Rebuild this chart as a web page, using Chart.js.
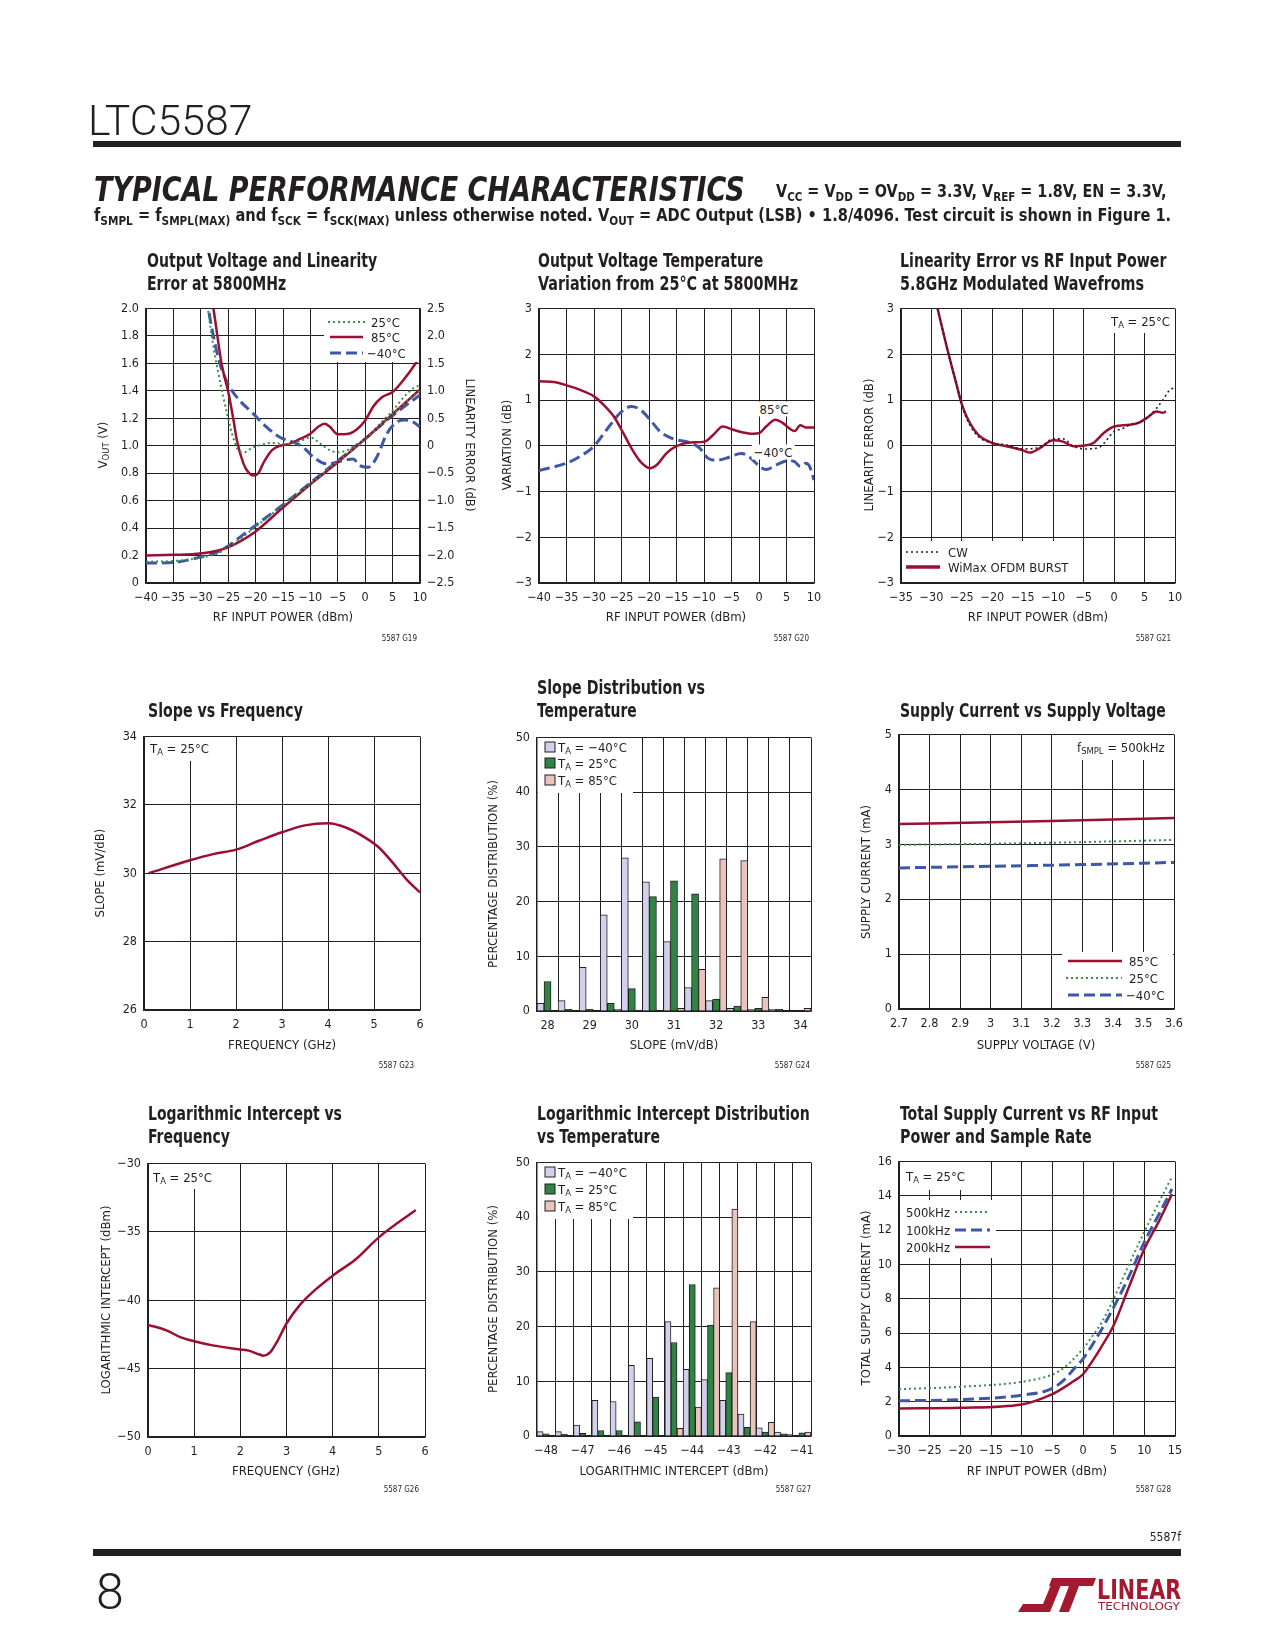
<!DOCTYPE html>
<html>
<head>
<meta charset="utf-8">
<title>LTC5587 Typical Performance Characteristics</title>
<script src="https://cdn.jsdelivr.net/npm/chart.js@4.4.1/dist/chart.umd.min.js"></script>
<style>
  body { margin: 0; background: #fff; }
  #page { position: relative; width: 1275px; height: 1650px; overflow: hidden; background: #fff;
          font-family: "Liberation Sans Narrow", "DejaVu Sans Condensed", "Arial Narrow", sans-serif; color: #231f20; }
  .t { position: absolute; white-space: nowrap; line-height: 1; }
  .t sub { font-size: 72%; vertical-align: -0.28em; line-height: 0; }
  .ttl { font-weight: bold; font-size: 19px; }
  .ax { font-size: 13px; }
  .note { font-size: 13px; }
  .code { font-size: 8px; }
  .rule { position: absolute; background: #231f20; }
  canvas { display: block; }
</style>
</head>
<body>
<div id="page"></div>
<script>
// G19 output voltage and linearity error at 5800MHz
const g19Pin = [-40, -35, -30, -27, -25, -22.5, -20, -15, -10, -5, 0, 5, 10];
const g19Vout25 = [0.155, 0.16, 0.185, 0.215, 0.26, 0.33, 0.41, 0.565, 0.725, 0.885, 1.045, 1.235, 1.40];
const g19Vout85 = [0.20, 0.205, 0.215, 0.235, 0.26, 0.31, 0.375, 0.55, 0.72, 0.88, 1.05, 1.23, 1.41];
const g19VoutM40 = [0.145, 0.15, 0.19, 0.225, 0.27, 0.345, 0.42, 0.57, 0.73, 0.89, 1.05, 1.22, 1.37];
const g19ErrX25 = [-29.3, -28.7, -27.7, -26.5, -25.2, -24, -23, -22, -21, -19.5, -17, -14.5, -12, -10, -8.2, -6.5, -5, -3.5, -1.5, 0.5, 2.7, 5, 7, 8.8, 10];
const g19Err25 = [3.0, 2.5, 1.8, 1.18, 0.58, 0.12, -0.1, -0.12, -0.06, 0.0, 0.05, 0.03, 0.08, 0.15, 0.04, -0.08, -0.12, -0.09, 0.03, 0.17, 0.4, 0.64, 0.88, 1.05, 1.1];
const g19ErrX85 = [-28.6, -27.7, -26.2, -24.9, -24, -23.4, -22.2, -21.2, -20.4, -19.5, -18.5, -17, -15.5, -14, -12, -10, -8.5, -7.4, -6.5, -5, -3, -1.5, 0, 1.5, 3, 5, 6, 8, 10];
const g19Err85 = [3.0, 2.5, 1.49, 0.94, 0.45, 0.09, -0.33, -0.5, -0.54, -0.5, -0.3, -0.08, 0.0, 0.03, 0.12, 0.22, 0.35, 0.4, 0.35, 0.21, 0.22, 0.3, 0.46, 0.72, 0.88, 0.98, 1.08, 1.33, 1.62];
const g19ErrXM40 = [-29.2, -28.6, -27.5, -26.5, -25, -23.4, -20.4, -18, -15.5, -13, -11.3, -9.4, -7, -4, -2.2, -1, 0.6, 2.1, 3.9, 5.7, 7.3, 8.8, 10];
const g19ErrM40 = [3.0, 2.5, 1.9, 1.49, 1.12, 0.88, 0.58, 0.34, 0.15, 0.06, -0.03, -0.21, -0.33, -0.27, -0.24, -0.36, -0.39, -0.21, 0.21, 0.43, 0.47, 0.43, 0.34];

// G20 output voltage temperature variation from 25C
const g20X85 = [-40, -37, -35, -32.5, -30, -28.3, -26.4, -25, -23.4, -21.6, -19.8, -18.6, -16.8, -15, -12.6, -9.9, -8.3, -6.6, -4.7, -2.9, -1.1, 0.1, 1.3, 3, 4.3, 5.5, 6.5, 7.5, 8.5, 10];
const g20Var85 = [1.41, 1.39, 1.32, 1.22, 1.08, 0.9, 0.64, 0.35, -0.01, -0.34, -0.49, -0.42, -0.16, -0.01, 0.07, 0.09, 0.24, 0.42, 0.35, 0.29, 0.26, 0.28, 0.42, 0.57, 0.5, 0.38, 0.32, 0.45, 0.4, 0.4];
const g20XM40 = [-40, -35, -32.5, -30, -27.7, -25.3, -23.2, -21.6, -19.8, -18, -15.6, -12.6, -10.8, -9.3, -7.8, -5.9, -3.2, -1.7, 0.1, 1.3, 3.1, 5.5, 6.5, 7.5, 8.5, 9.2, 10];
const g20VarM40 = [-0.54, -0.38, -0.23, -0.01, 0.35, 0.71, 0.86, 0.79, 0.57, 0.31, 0.15, 0.07, -0.05, -0.27, -0.32, -0.27, -0.17, -0.25, -0.45, -0.52, -0.42, -0.32, -0.35, -0.45, -0.38, -0.45, -0.75];

// G21 linearity error, CW vs WiMax burst
const g21XWimax = [-29, -27.5, -26.1, -24.9, -23.7, -22.3, -20, -17.7, -15, -13.8, -12.2, -10, -8.4, -6.7, -5.1, -3.4, -1.7, 0, 2.5, 4, 5.5, 7, 8, 8.5];
const g21Wimax = [3.0, 2.17, 1.45, 0.86, 0.5, 0.24, 0.06, -0.01, -0.1, -0.15, -0.05, 0.12, 0.09, -0.01, 0, 0.06, 0.28, 0.42, 0.46, 0.5, 0.62, 0.75, 0.72, 0.75];
const g21XCw = [-29, -27.5, -26.1, -24.9, -23.7, -22.3, -20, -17.7, -15, -12, -10, -8.4, -6.7, -4.6, -2.4, 0, 1.5, 2.6, 4, 6, 8, 9, 10];
const g21Cw = [3.0, 2.17, 1.45, 0.84, 0.45, 0.2, 0.06, 0.02, -0.07, -0.02, 0.15, 0.15, -0.01, -0.07, -0.03, 0.31, 0.38, 0.46, 0.5, 0.68, 1.0, 1.2, 1.28];

// G23 slope vs frequency
const g23Freq = [0.1, 1, 1.5, 2, 2.5, 3, 3.5, 4, 4.4, 4.8, 5.1, 5.4, 5.7, 6];
const g23Slope = [30.0, 30.38, 30.56, 30.69, 30.95, 31.2, 31.4, 31.46, 31.33, 31.05, 30.76, 30.32, 29.83, 29.44];

// G24 slope distribution (%)
const g24Slope = ['28', '28.5', '29', '29.5', '30', '30.5', '31', '31.5', '32', '32.5', '33', '33.5', '34'];
const g24M40 = [1.4, 1.9, 8.0, 17.6, 28.0, 23.6, 12.7, 4.3, 1.9, 0.5, 0.3, 0.3, null];
const g24P25 = [5.4, 0.3, 0.3, 1.4, 4.1, 20.9, 23.8, 21.4, 2.2, 0.9, 0.5, 0.3, null];
const g24P85 = [null, null, null, 0.3, null, null, 0.5, 7.6, 27.8, 27.5, 2.5, null, 0.5];

// G25 supply current vs supply voltage
const g25Vdd = [2.7, 3.0, 3.3, 3.6];
const g25I85 = [3.37, 3.40, 3.44, 3.48];
const g25I25 = [2.99, 3.01, 3.04, 3.08];
const g25IM40 = [2.57, 2.60, 2.63, 2.67];

// G26 logarithmic intercept vs frequency
const g26Freq = [0, 0.4, 0.7, 1, 1.4, 2, 2.2, 2.4, 2.5, 2.65, 2.8, 3, 3.3, 3.6, 4, 4.5, 5, 5.8];
const g26Icpt = [-41.8, -42.2, -42.7, -43.0, -43.3, -43.6, -43.7, -43.95, -44.05, -43.8, -43.0, -41.7, -40.3, -39.3, -38.2, -37.0, -35.4, -33.4];

// G27 log intercept distribution (%)
const g27Icpt = ['−48', '−47.5', '−47', '−46.5', '−46', '−45.5', '−45', '−44.5', '−44', '−43.5', '−43', '−42.5', '−42', '−41.5', '−41'];
const g27M40 = [0.8, 0.8, 2.0, 6.5, 6.3, 12.9, 14.2, 20.9, 12.2, 10.3, 6.5, 4.0, 1.5, 0.7, null];
const g27P25 = [0.4, 0.3, 0.5, 1.0, 1.0, 2.6, 7.1, 17.1, 27.7, 20.3, 11.6, 1.6, 0.7, 0.4, 0.6];
const g27P85 = [null, null, null, null, null, null, null, 1.4, 5.3, 27.1, 41.5, 20.9, 2.5, 0.3, 0.7];

// G28 total supply current vs RF input power
const g28Pin = [-30, -20, -10, -5, -3, -1.5, 0, 1.5, 3, 5, 7.5, 10, 12.5, 14.5];
const g28I500 = [2.73, 2.87, 3.16, 3.58, 4.0, 4.5, 5.09, 5.8, 6.6, 8.0, 10.0, 11.9, 13.7, 15.1];
const g28I100 = [2.05, 2.12, 2.38, 2.77, 3.3, 3.9, 4.5, 5.3, 6.2, 7.5, 9.3, 11.3, 13.0, 14.4];
const g28I200 = [1.61, 1.65, 1.84, 2.44, 2.85, 3.2, 3.6, 4.35, 5.2, 6.45, 8.7, 10.9, 12.6, 14.1];

const INK = '#231f20';
const RED = '#9b1030';
const BLUE = '#3d58a8';
const GREEN = '#3b8c4c';
const LAV = '#d0d2ec';
const DKGREEN = '#2f8443';
const PINK = '#e8c4bd';
const FONT = '"Liberation Sans Narrow", "DejaVu Sans Condensed", "Arial Narrow", sans-serif';

Chart.defaults.font.family = FONT;
Chart.defaults.font.size = 12.5;
Chart.defaults.color = INK;
Chart.defaults.animation = false;

const STY = {
  red: { borderColor: RED, borderWidth: 2.5 },
  blue: { borderColor: BLUE, borderWidth: 3, borderDash: [11, 5] },
  green: { borderColor: GREEN, borderWidth: 2, borderDash: [2, 3] },
  black: { borderColor: INK, borderWidth: 1.6, borderDash: [2, 3] }
};

const page = document.getElementById('page');
const fInt = v => String(Math.round(v * 100) / 100).replace('-', '−');
const f1 = v => Math.abs(v) < 1e-9 ? '0' : v.toFixed(1).replace('-', '−');

function ser(xs, ys, sty, axisId) {
  return Object.assign({
    data: xs.map((x, i) => ({ x: x, y: ys[i] })),
    pointRadius: 0, fill: false, cubicInterpolationMode: 'monotone', yAxisID: axisId || 'y'
  }, STY[sty]);
}

function axis(min, max, step, fmt, pos) {
  return {
    type: 'linear', position: pos, min: min, max: max,
    ticks: { stepSize: step, autoSkip: false, maxRotation: 0, padding: 7, callback: fmt },
    grid: { color: INK, lineWidth: 1, drawTicks: false },
    border: { color: INK, width: 1.5 }
  };
}

const M = { l: 60, r: 40, t: 14, b: 30 };
function makeChart(box, cfg) {
  const W = box.w + M.l + M.r, H = box.h + M.t + M.b;
  const wrap = document.createElement('div');
  wrap.style.cssText = 'position:absolute;left:' + (box.x - M.l) + 'px;top:' + (box.y - M.t) + 'px;width:' + W + 'px;height:' + H + 'px;';
  const cv = document.createElement('canvas');
  cv.width = W; cv.height = H;
  wrap.appendChild(cv);
  page.appendChild(wrap);
  const sc = cfg.options.scales;
  sc.x.afterFit = s => { s.height = M.b; };
  sc.y.afterFit = s => { s.width = M.l; };
  if (sc.y2) sc.y2.afterFit = s => { s.width = M.r; };
  cfg.options.responsive = false;
  cfg.options.layout = { padding: { top: M.t, right: sc.y2 ? 0 : M.r, left: 0, bottom: 0 } };
  cfg.options.plugins = { legend: { display: false }, tooltip: { enabled: false } };
  return new Chart(cv, cfg);
}

function barCfg(labels, a, b, c) {
  const ds = (d, col) => ({ data: d, backgroundColor: col, borderColor: INK, borderWidth: 1,
    barPercentage: 1, categoryPercentage: 1, borderSkipped: 'bottom' });
  return {
    type: 'bar',
    data: { labels: labels, datasets: [ds(a, LAV), ds(b, DKGREEN), ds(c, PINK)] },
    options: { scales: {
      x: { type: 'category',
           ticks: { autoSkip: false, maxRotation: 0, padding: 7, callback: (v, i) => i % 2 === 0 ? labels[i] : '' },
           grid: { color: INK, lineWidth: 1, drawTicks: false, offset: true },
           border: { color: INK, width: 1.5 } },
      y: axis(0, 50, 10, fInt, 'left')
    } }
  };
}

function txt(html, x, y, cls, o) {
  o = o || {};
  const d = document.createElement('div');
  d.className = 't ' + cls;
  d.innerHTML = html;
  d.style.left = x + 'px';
  d.style.top = y + 'px';
  if (o.size) d.style.fontSize = o.size + 'px';
  if (o.css) d.style.cssText += o.css;
  if (o.bg) { d.style.background = '#fff'; d.style.padding = '1px 2px'; }
  page.appendChild(d);
  const ax = o.align === 'c' ? -50 : o.align === 'r' ? -100 : 0;
  const k = o.fit ? o.fit / d.offsetWidth : 1;
  d.style.transformOrigin = o.align === 'c' ? '50% 50%' : o.align === 'r' ? '100% 50%' : '0 50%';
  d.style.transform = 'translate(' + ax + '%,-50%)' + (o.rot ? ' rotate(' + o.rot + 'deg)' : '') + (k !== 1 ? ' scaleX(' + k + ')' : '');
  return d;
}

function rule(x, y, w, h) {
  const d = document.createElement('div');
  d.className = 'rule';
  d.style.cssText += 'left:' + x + 'px;top:' + y + 'px;width:' + w + 'px;height:' + h + 'px;';
  page.appendChild(d);
}

// ---------------- charts ----------------
makeChart({ x: 146, y: 308, w: 274, h: 275 }, {
  type: 'line',
  data: { datasets: [
    ser(g19Pin, g19Vout25, 'green'), ser(g19Pin, g19Vout85, 'red'), ser(g19Pin, g19VoutM40, 'blue'),
    ser(g19ErrX25, g19Err25, 'green', 'y2'), ser(g19ErrX85, g19Err85, 'red', 'y2'), ser(g19ErrXM40, g19ErrM40, 'blue', 'y2')
  ] },
  options: { scales: {
    x: axis(-40, 10, 5, fInt, 'bottom'),
    y: axis(0, 2, 0.2, f1, 'left'),
    y2: Object.assign(axis(-2.5, 2.5, 0.5, f1, 'right'), { grid: { drawOnChartArea: false, drawTicks: false } })
  } }
});

makeChart({ x: 539, y: 308, w: 275, h: 275 }, {
  type: 'line',
  data: { datasets: [ser(g20X85, g20Var85, 'red'), ser(g20XM40, g20VarM40, 'blue')] },
  options: { scales: { x: axis(-40, 10, 5, fInt, 'bottom'), y: axis(-3, 3, 1, fInt, 'left') } }
});

makeChart({ x: 901, y: 308, w: 274, h: 275 }, {
  type: 'line',
  data: { datasets: [ser(g21XCw, g21Cw, 'black'), ser(g21XWimax, g21Wimax, 'red')] },
  options: { scales: { x: axis(-35, 10, 5, fInt, 'bottom'), y: axis(-3, 3, 1, fInt, 'left') } }
});

makeChart({ x: 144, y: 736, w: 276, h: 274 }, {
  type: 'line',
  data: { datasets: [ser(g23Freq, g23Slope, 'red')] },
  options: { scales: { x: axis(0, 6, 1, fInt, 'bottom'), y: axis(26, 34, 2, fInt, 'left') } }
});

makeChart({ x: 537, y: 737, w: 274, h: 274 }, barCfg(g24Slope, g24M40, g24P25, g24P85));

makeChart({ x: 899, y: 734, w: 275, h: 275 }, {
  type: 'line',
  data: { datasets: [ser(g25Vdd, g25I85, 'red'), ser(g25Vdd, g25I25, 'green'), ser(g25Vdd, g25IM40, 'blue')] },
  options: { scales: { x: axis(2.7, 3.6, 0.1, fInt, 'bottom'), y: axis(0, 5, 1, fInt, 'left') } }
});

makeChart({ x: 148, y: 1163, w: 277, h: 274 }, {
  type: 'line',
  data: { datasets: [ser(g26Freq, g26Icpt, 'red')] },
  options: { scales: { x: axis(0, 6, 1, fInt, 'bottom'), y: axis(-50, -30, 5, fInt, 'left') } }
});

makeChart({ x: 537, y: 1162, w: 274, h: 274 }, barCfg(g27Icpt, g27M40, g27P25, g27P85));

makeChart({ x: 899, y: 1161, w: 276, h: 275 }, {
  type: 'line',
  data: { datasets: [ser(g28Pin, g28I500, 'green'), ser(g28Pin, g28I100, 'blue'), ser(g28Pin, g28I200, 'red')] },
  options: { scales: { x: axis(-30, 15, 5, fInt, 'bottom'), y: axis(0, 16, 2, fInt, 'left') } }
});

// ---------------- overlay: white boxes, legend samples ----------------
const NS = 'http://www.w3.org/2000/svg';
const svg = document.createElementNS(NS, 'svg');
svg.setAttribute('width', 1275);
svg.setAttribute('height', 1650);
svg.style.cssText = 'position:absolute;left:0;top:0;';
page.appendChild(svg);
function sv(tag, attrs) {
  const e = document.createElementNS(NS, tag);
  for (const k in attrs) e.setAttribute(k, attrs[k]);
  svg.appendChild(e);
  return e;
}
function whiteBox(x, y, w, h) { sv('rect', { x: x, y: y, width: w, height: h, fill: '#fff' }); }
function sample(x1, x2, y, sty) {
  const s = STY[sty];
  sv('line', { x1: x1, y1: y, x2: x2, y2: y, stroke: s.borderColor, 'stroke-width': s.borderWidth,
               'stroke-dasharray': s.borderDash ? s.borderDash.join(' ') : 'none' });
}
function swatch(x, y, c) { sv('rect', { x: x, y: y - 5, width: 10, height: 10, fill: c, stroke: INK, 'stroke-width': 1 }); }

whiteBox(324, 309, 95, 53);
sample(328, 367, 322, 'green'); sample(330, 363, 337, 'red'); sample(330, 363, 353, 'blue');
whiteBox(1106, 309, 68, 24);
whiteBox(902, 541, 176, 41);
sample(906, 940, 552, 'black');
sv('line', { x1: 906, y1: 567, x2: 940, y2: 567, stroke: RED, 'stroke-width': 3.5 });
whiteBox(145, 737, 66, 24);
whiteBox(538, 738, 95, 55);
swatch(545, 747, LAV); swatch(545, 763, DKGREEN); swatch(545, 780, PINK);
whiteBox(1070, 735, 103, 25);
whiteBox(1062, 952, 111, 56);
sample(1068, 1122, 961, 'red'); sample(1066, 1122, 978, 'green'); sample(1068, 1122, 995, 'blue');
whiteBox(149, 1164, 67, 25);
whiteBox(538, 1163, 95, 56);
swatch(545, 1172, LAV); swatch(545, 1189, DKGREEN); swatch(545, 1206, PINK);
whiteBox(900, 1162, 67, 28);
whiteBox(900, 1200, 96, 58);
sample(955, 990, 1212, 'green'); sample(955, 990, 1230, 'blue'); sample(955, 990, 1247, 'red');

// logo mark
sv('path', { d: 'M1018,1612 L1050,1612 L1063,1580 L1053,1580 L1043,1604 L1023,1604 Z', fill: '#a3192f' });
sv('path', { d: 'M1052,1578 L1096,1578 L1093,1586 L1079,1586 L1069,1612 L1059,1612 L1069,1586 L1049,1586 Z', fill: '#a3192f' });

// ---------------- header / footer ----------------
txt('LTC5587', 88, 121, '', { size: 42, css: 'font-family:Roboto,"Liberation Sans",sans-serif;font-weight:300;', fit: 164 });
rule(93, 141, 1088, 6);
txt('TYPICAL PERFORMANCE CHARACTERISTICS', 94, 189, '', { size: 34, css: 'font-family:"DejaVu Sans Condensed","DejaVu Sans",sans-serif;font-weight:900;font-style:italic;', fit: 651 });
txt('V<sub>CC</sub> = V<sub>DD</sub> = OV<sub>DD</sub> = 3.3V, V<sub>REF</sub> = 1.8V, EN = 3.3V,', 776, 191, '', { size: 18, css: 'font-weight:bold;', fit: 390 });
txt('f<sub>SMPL</sub> = f<sub>SMPL(MAX)</sub> and f<sub>SCK</sub> = f<sub>SCK(MAX)</sub> unless otherwise noted. V<sub>OUT</sub> = ADC Output (LSB) • 1.8/4096. Test circuit is shown in Figure 1.', 94, 215, '', { size: 18, css: 'font-weight:bold;', fit: 1077 });
rule(93, 1549, 1088, 7);
txt('5587f', 1181, 1537, '', { size: 12, align: 'r' });
txt('8', 96, 1592, '', { size: 50, css: 'font-family:Roboto,"Liberation Sans",sans-serif;font-weight:300;' });
txt('LINEAR', 1097, 1590, '', { size: 26, css: 'font-weight:bold;color:#a3192f;', fit: 84 });
txt('TECHNOLOGY', 1098, 1607, '', { size: 10, css: 'color:#a3192f;', fit: 82 });

// ---------------- titles ----------------
function title(lines, x, y, widths) {
  lines.forEach((s, i) => txt(s, x, y + i * 23, 'ttl', { fit: widths[i] }));
}
title(['Output Voltage and Linearity', 'Error at 5800MHz'], 147, 260, [230, 139]);
title(['Output Voltage Temperature', 'Variation from 25°C at 5800MHz'], 538, 260, [225, 260]);
title(['Linearity Error vs RF Input Power', '5.8GHz Modulated Wavefroms'], 900, 260, [266, 244]);
title(['Slope vs Frequency'], 148, 710, [155]);
title(['Slope Distribution vs', 'Temperature'], 537, 687, [168, 100]);
title(['Supply Current vs Supply Voltage'], 900, 710, [266]);
title(['Logarithmic Intercept vs', 'Frequency'], 148, 1113, [194, 82]);
title(['Logarithmic Intercept Distribution', 'vs Temperature'], 537, 1113, [273, 123]);
title(['Total Supply Current vs RF Input', 'Power and Sample Rate'], 900, 1113, [258, 192]);

// ---------------- axis titles ----------------
txt('V<sub>OUT</sub> (V)', 102, 445, 'ax', { align: 'c', rot: -90 });
txt('LINEARITY ERROR (dB)', 470, 445, 'ax', { align: 'c', rot: 90 });
txt('RF INPUT POWER (dBm)', 283, 616, 'ax', { align: 'c' });
txt('VARIATION (dB)', 506, 445, 'ax', { align: 'c', rot: -90 });
txt('RF INPUT POWER (dBm)', 676, 616, 'ax', { align: 'c' });
txt('LINEARITY ERROR (dB)', 868, 445, 'ax', { align: 'c', rot: -90 });
txt('RF INPUT POWER (dBm)', 1038, 616, 'ax', { align: 'c' });
txt('SLOPE (mV/dB)', 99, 873, 'ax', { align: 'c', rot: -90 });
txt('FREQUENCY (GHz)', 282, 1044, 'ax', { align: 'c' });
txt('PERCENTAGE DISTRIBUTION (%)', 492, 874, 'ax', { align: 'c', rot: -90 });
txt('SLOPE (mV/dB)', 674, 1044, 'ax', { align: 'c' });
txt('SUPPLY CURRENT (mA)', 865, 872, 'ax', { align: 'c', rot: -90 });
txt('SUPPLY VOLTAGE (V)', 1036, 1044, 'ax', { align: 'c' });
txt('LOGARITHMIC INTERCEPT (dBm)', 105, 1300, 'ax', { align: 'c', rot: -90 });
txt('FREQUENCY (GHz)', 286, 1470, 'ax', { align: 'c' });
txt('PERCENTAGE DISTRIBUTION (%)', 492, 1299, 'ax', { align: 'c', rot: -90 });
txt('LOGARITHMIC INTERCEPT (dBm)', 674, 1470, 'ax', { align: 'c' });
txt('TOTAL SUPPLY CURRENT (mA)', 865, 1298, 'ax', { align: 'c', rot: -90 });
txt('RF INPUT POWER (dBm)', 1037, 1470, 'ax', { align: 'c' });

// ---------------- figure codes ----------------
txt('5587 G19', 417, 639, 'code', { align: 'r' });
txt('5587 G20', 809, 639, 'code', { align: 'r' });
txt('5587 G21', 1171, 639, 'code', { align: 'r' });
txt('5587 G23', 414, 1066, 'code', { align: 'r' });
txt('5587 G24', 810, 1066, 'code', { align: 'r' });
txt('5587 G25', 1171, 1066, 'code', { align: 'r' });
txt('5587 G26', 419, 1490, 'code', { align: 'r' });
txt('5587 G27', 811, 1490, 'code', { align: 'r' });
txt('5587 G28', 1171, 1490, 'code', { align: 'r' });

// ---------------- in-plot notes ----------------
txt('25°C', 371, 322, 'note');
txt('85°C', 371, 337, 'note');
txt('−40°C', 367, 353, 'note');
txt('85°C', 774, 409, 'note', { align: 'c', bg: true });
txt('−40°C', 773, 452, 'note', { align: 'c', bg: true });
txt('T<sub>A</sub> = 25°C', 1111, 321, 'note');
txt('CW', 948, 552, 'note');
txt('WiMax OFDM BURST', 948, 567, 'note');
txt('T<sub>A</sub> = 25°C', 150, 748, 'note');
txt('T<sub>A</sub> = −40°C', 558, 747, 'note');
txt('T<sub>A</sub> = 25°C', 558, 763, 'note');
txt('T<sub>A</sub> = 85°C', 558, 780, 'note');
txt('f<sub>SMPL</sub> = 500kHz', 1077, 747, 'note');
txt('85°C', 1129, 961, 'note');
txt('25°C', 1129, 978, 'note');
txt('−40°C', 1126, 995, 'note');
txt('T<sub>A</sub> = 25°C', 153, 1177, 'note');
txt('T<sub>A</sub> = −40°C', 558, 1172, 'note');
txt('T<sub>A</sub> = 25°C', 558, 1189, 'note');
txt('T<sub>A</sub> = 85°C', 558, 1206, 'note');
txt('T<sub>A</sub> = 25°C', 906, 1176, 'note');
txt('500kHz', 906, 1212, 'note');
txt('100kHz', 906, 1230, 'note');
txt('200kHz', 906, 1247, 'note');
</script>
</body>
</html>
